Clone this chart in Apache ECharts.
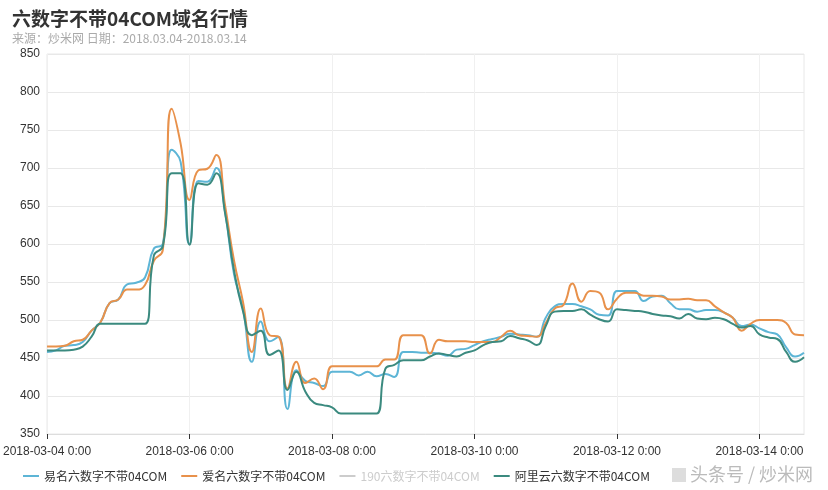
<!DOCTYPE html>
<html><head><meta charset="utf-8">
<script src="https://cdn.jsdelivr.net/npm/echarts@6/dist/echarts.min.js"></script>
<style>html,body{margin:0;padding:0;background:#fff}#c{width:828px;height:490px}</style>
</head><body><div id="c"></div>
<script>
// categories: 3-hour steps from 2018-03-04 0:00 to 2018-03-14 15:00
const startDay = 4, stepHours = 3, pointCount = 86;
const categories = [];
for (let i = 0; i < pointCount; i++) {
  const h = i * stepHours, d = startDay + Math.floor(h / 24), hh = h % 24;
  categories.push('2018-03-' + String(d).padStart(2, '0') + ' ' + hh + ':00');
}
const seriesNames = ['易名六数字不带04COM', '爱名六数字不带04COM', '190六数字不带04COM', '阿里云六数字不带04COM'];
const yiming = [458,460,466,467,471,486,497,522,527,547,
  549,556,594,600,724,708,600,683,682,700,
  642,560,515,445,498,472,478,383,434,420,
  417,413,432,432,432,427,432,426,429,425,
  458,458,457,457,456,453,461,462,467,472,
  475,478,482,481,480,478,503,518,521,521,
  518,514,507,506,538,538,538,525,531,532,
  522,514,514,511,513,513,510,503,492,494,
  489,484,481,464,452,457];
const aiming = [465,465,466,472,474,486,497,522,527,540,
  540,546,578,592,778,732,658,697,699,717,
  650,578,524,458,515,480,478,410,445,417,
  423,409,439,439,439,439,439,439,448,448,
  480,480,480,456,474,472,472,472,471,471,
  471,478,486,480,479,478,496,515,520,548,
  524,538,536,514,528,536,536,532,532,531,
  527,527,528,526,526,518,510,503,486,495,
  500,500,500,496,481,480];
const s190 = []; // hidden in the reference (legend deselected)
const aliyun = [460,460,460,461,465,478,495,495,495,495,
  495,495,585,597,693,693,599,680,678,693,
  640,565,512,480,486,454,460,408,432,406,
  391,388,385,377,377,377,377,377,436,441,
  447,447,447,452,456,454,452,457,460,467,
  471,472,479,476,473,467,492,511,512,512,
  514,507,501,498,514,513,512,511,508,506,
  505,502,508,502,501,503,501,495,490,492,
  481,477,475,458,445,451];
const colors = ['#5db5d6', '#e8914b', '#c8c8c8', '#3b8a7f'];

const chart = echarts.init(document.getElementById('c'), null, {renderer: 'canvas'});
const mk = (name, data, color) => ({
  name, type: 'line', data, smooth: true, showSymbol: false, symbol: 'none',
  lineStyle: {width: 2, color}, itemStyle: {color}
});
chart.setOption({
  animation: false,
  backgroundColor: '#fff',
  title: {
    text: '六数字不带04COM域名行情',
    subtext: '来源：炒米网 日期：2018.03.04-2018.03.14',
    left: 7, top: 4, itemGap: 4,
    textStyle: {fontSize: 19, fontWeight: 'bold', color: '#333', fontFamily: 'Noto Sans CJK SC'},
    subtextStyle: {fontSize: 12, color: '#aaa', fontFamily: 'Noto Sans CJK SC'}
  },
  legend: {
    data: seriesNames, left: 18, bottom: 3, icon: 'rect', itemWidth: 16, itemHeight: 2, itemGap: 14,
    selected: {'190六数字不带04COM': false},
    inactiveColor: '#ccc',
    textStyle: {fontSize: 12, color: '#333', fontFamily: 'Noto Sans CJK SC'}
  },
  grid: {left: 47, right: 24, top: 54, bottom: 56, show: true, borderColor: '#e8e8e8', borderWidth: 1},
  xAxis: {
    type: 'category', data: categories, boundaryGap: false,
    axisLine: {lineStyle: {color: '#ddd'}},
    axisTick: {interval: 15, length: 5, lineStyle: {color: '#333'}},
    axisLabel: {interval: 15, color: '#333', fontSize: 12, margin: 12, fontFamily: 'Liberation Sans'},
    splitLine: {show: true, interval: 15, lineStyle: {color: '#f0f0f0'}}
  },
  yAxis: {
    type: 'value', min: 350, max: 850, interval: 50,
    axisLine: {show: false}, axisTick: {show: false},
    axisLabel: {color: '#333', fontSize: 12, margin: 7, fontFamily: 'Liberation Sans'},
    splitLine: {lineStyle: {color: '#e8e8e8'}}
  },
  series: [mk(seriesNames[0], yiming, colors[0]), mk(seriesNames[1], aiming, colors[1]),
           mk(seriesNames[2], s190, colors[2]), mk(seriesNames[3], aliyun, colors[3])],
  graphic: [
    {type: 'rect', left: 672, top: 468, shape: {width: 14, height: 14}, style: {fill: '#ddd'}},
    {type: 'text', left: 690, top: 465, style: {text: '头条号 / 炒米网', fill: '#bbb', fontSize: 18, fontFamily: 'Noto Sans CJK SC'}}
  ]
});
</script></body></html>
